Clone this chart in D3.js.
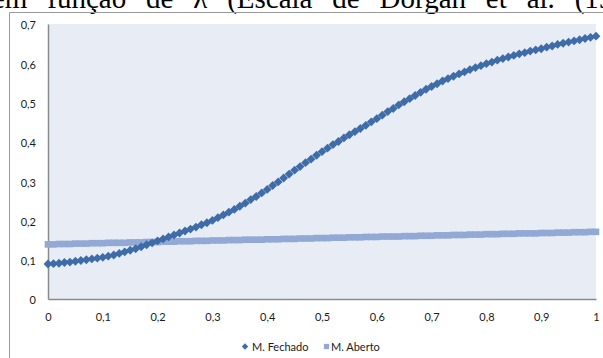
<!DOCTYPE html>
<html>
<head>
<meta charset="utf-8">
<script src="https://cdn.jsdelivr.net/npm/d3@7"></script>
<style>
  html, body { margin: 0; padding: 0; background: #fff; }
  svg { display: block; }
</style>
</head>
<body>
<svg id="chart" width="603" height="358"></svg>
<script>
// Relaxation parameter λ (x axis), sampled every 0.01
const lambdas = d3.range(0, 101).map(i => i / 100);

// M. Fechado series
const fechado = [
  0.089, 0.090, 0.091, 0.093, 0.094, 0.096, 0.098, 0.100, 0.102, 0.104,
  0.106, 0.109, 0.112, 0.116, 0.120, 0.124, 0.128, 0.133, 0.138, 0.143,
  0.148, 0.153, 0.158, 0.163, 0.168, 0.173, 0.178, 0.183, 0.189, 0.194,
  0.200, 0.207, 0.214, 0.221, 0.228, 0.236, 0.244, 0.253, 0.261, 0.270,
  0.279, 0.289, 0.298, 0.308, 0.318, 0.328, 0.337, 0.347, 0.356, 0.366,
  0.375, 0.384, 0.393, 0.401, 0.410, 0.418, 0.426, 0.434, 0.442, 0.451,
  0.459, 0.468, 0.477, 0.485, 0.494, 0.502, 0.510, 0.518, 0.526, 0.534,
  0.541, 0.548, 0.555, 0.561, 0.567, 0.573, 0.578, 0.584, 0.589, 0.594,
  0.599, 0.603, 0.608, 0.612, 0.616, 0.620, 0.624, 0.627, 0.631, 0.634,
  0.637, 0.641, 0.644, 0.648, 0.651, 0.654, 0.657, 0.660, 0.663, 0.666,
  0.669
];

// M. Aberto series
const aberto = [
  0.139, 0.139, 0.140, 0.140, 0.140, 0.141, 0.141, 0.141, 0.142, 0.142,
  0.142, 0.143, 0.143, 0.143, 0.143, 0.144, 0.144, 0.144, 0.145, 0.145,
  0.145, 0.146, 0.146, 0.146, 0.147, 0.147, 0.147, 0.148, 0.148, 0.148,
  0.149, 0.149, 0.149, 0.150, 0.150, 0.150, 0.151, 0.151, 0.151, 0.151,
  0.152, 0.152, 0.152, 0.153, 0.153, 0.153, 0.154, 0.154, 0.154, 0.155,
  0.155, 0.155, 0.156, 0.156, 0.156, 0.157, 0.157, 0.157, 0.158, 0.158,
  0.158, 0.159, 0.159, 0.159, 0.159, 0.160, 0.160, 0.160, 0.161, 0.161,
  0.161, 0.162, 0.162, 0.162, 0.163, 0.163, 0.163, 0.164, 0.164, 0.164,
  0.165, 0.165, 0.165, 0.166, 0.166, 0.166, 0.167, 0.167, 0.167, 0.167,
  0.168, 0.168, 0.168, 0.169, 0.169, 0.169, 0.170, 0.170, 0.170, 0.171,
  0.171
];

const xTicks = [0, 0.1, 0.2, 0.3, 0.4, 0.5, 0.6, 0.7, 0.8, 0.9, 1];
const yTicks = [0, 0.1, 0.2, 0.3, 0.4, 0.5, 0.6, 0.7];
const seriesNames = ["M. Fechado", "M. Aberto"];
// Justified line of running text above the chart
const captionText = "em função de λ (Escala de Dorgan et al. (1981))";

const colFechado = "#3E6CA9";
const colAberto = "#92A9D6";
const fmt = v => String(v).replace(".", ",");
const labelFont = "Lato, 'Open Sans', sans-serif";

const svg = d3.select("#chart");

// Running text of the page above the chart
svg.append("text")
  .attr("x", -8)
  .attr("y", 7.5)
  .attr("font-family", "'Liberation Serif', 'Times New Roman', serif")
  .attr("font-size", 29)
  .attr("word-spacing", 12.6)
  .attr("fill", "#000")
  .text(captionText);

// Chart frame (only left and top edges fall inside the page)
svg.append("path")
  .attr("d", "M9.5,358 V12.5 H603")
  .attr("fill", "none")
  .attr("stroke", "#9a9a9a")
  .attr("stroke-width", 1);

const x = d3.scaleLinear().domain([0, 1]).range([48, 596]);
const y = d3.scaleLinear().domain([0, 0.7]).range([299, 24]);

// Plot area background
svg.append("rect")
  .attr("x", x(0)).attr("y", y(0.7))
  .attr("width", x(1) - x(0)).attr("height", y(0) - y(0.7))
  .attr("fill", "#E8EDF5");

// Axes
const xAxis = d3.axisBottom(x).tickValues(xTicks).tickFormat(fmt).tickSize(0).tickPadding(14);
const yAxis = d3.axisLeft(y).tickValues(yTicks).tickFormat(fmt).tickSize(0).tickPadding(12);

const gx = svg.append("g").attr("transform", `translate(0,${y(0)})`).call(xAxis);
const gy = svg.append("g").attr("transform", `translate(${x(0)},0)`).call(yAxis);
[gx, gy].forEach(g => {
  g.select(".domain").attr("stroke", "#8a8a8a").attr("stroke-width", 1.5);
  g.selectAll("text").attr("font-family", labelFont).attr("font-size", 11).attr("fill", "#1a1a1a");
});
gy.selectAll("text").attr("dy", "0.45em");

// Series markers
const diamond = d3.symbol().type(d3.symbolDiamond2).size(50);
const square = d3.symbol().type(d3.symbolSquare2).size(56);

svg.append("g").selectAll("path")
  .data(lambdas.map((l, i) => [l, aberto[i]]))
  .join("path")
  .attr("transform", d => `translate(${x(d[0])},${y(d[1])})`)
  .attr("d", square)
  .attr("fill", colAberto);

svg.append("g").selectAll("path")
  .data(lambdas.map((l, i) => [l, fechado[i]]))
  .join("path")
  .attr("transform", d => `translate(${x(d[0])},${y(d[1])})`)
  .attr("d", diamond)
  .attr("fill", colFechado);

// Legend
const legend = svg.append("g").attr("font-family", labelFont).attr("font-size", 11).attr("fill", "#1a1a1a");
legend.append("path")
  .attr("transform", "translate(245,346.5)")
  .attr("d", d3.symbol().type(d3.symbolDiamond2).size(26))
  .attr("fill", colFechado);
legend.append("text").attr("x", 252).attr("y", 350.5).text(seriesNames[0]);
legend.append("path")
  .attr("transform", "translate(326.5,346.5)")
  .attr("d", d3.symbol().type(d3.symbolSquare2).size(36))
  .attr("fill", colAberto);
legend.append("text").attr("x", 331).attr("y", 350.5).text(seriesNames[1]);
</script>
</body>
</html>
